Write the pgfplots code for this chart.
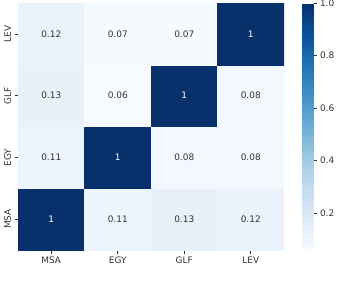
\documentclass[border=0pt]{standalone}
\usepackage{pgfplots}
\usepackage{pgfplotstable}
\pgfplotsset{compat=1.18}
\usepackage{fontspec}
\setmainfont{DejaVu Sans}
\definecolor{labelgray}{HTML}{333333}

% pairwise similarity between dialects (rows: y, columns: x)
\pgfplotstableread{
x y v
0 0 1
1 0 0.11
2 0 0.13
3 0 0.12
0 1 0.11
1 1 1
2 1 0.08
3 1 0.08
0 2 0.13
1 2 0.06
2 2 1
3 2 0.08
0 3 0.12
1 3 0.07
2 3 0.07
3 3 1
}\corr

\pgfplotsset{
  cell label/.style={draw=none, mark=none, point meta=explicit symbolic,
    nodes near coords, nodes near coords align=center,
    every node near coord/.append style={font=\fontsize{9}{10}\selectfont,
      anchor=center, text=#1}},
}

\begin{document}
\begin{tikzpicture}
\begin{axis}[
  name=heat,
  scale only axis,
  width=266bp, height=247bp,
  xmin=-0.5, xmax=3.5, ymin=-0.5, ymax=3.5,
  axis line style={draw=none},
  xtick={0,1,2,3}, xticklabels={MSA,EGY,GLF,LEV},
  ytick={0,1,2,3}, yticklabels={MSA,EGY,GLF,LEV},
  xtick pos=left, ytick pos=left,
  yticklabel style={rotate=90, anchor=south},
  tick align=outside, major tick length=3.5bp,
  tick style={color=labelgray, line width=0.6bp},
  ticklabel style={font=\fontsize{9}{10}\selectfont, text=labelgray},
  colormap={blues}{
    rgb255=(247,251,255) rgb255=(222,235,247) rgb255=(198,219,239)
    rgb255=(158,202,225) rgb255=(107,174,214) rgb255=(66,146,198)
    rgb255=(33,113,181) rgb255=(8,81,156) rgb255=(8,48,107)},
  point meta min=0.06, point meta max=1,
  colorbar,
  colorbar style={
    at={(parent axis.north east)}, anchor=north west, xshift=10bp,
    scale only axis, width=11bp,
    axis line style={draw=none},
    ytick={0.2,0.4,0.6,0.8,1.0},
    ytick pos=right, yticklabel pos=right,
    tick align=outside, major tick length=3bp,
    tick style={color=labelgray, line width=0.6bp},
    yticklabel style={font=\fontsize{9}{10}\selectfont, text=labelgray,
      /pgf/number format/.cd, fixed, fixed zerofill, precision=1, assume math mode=true},
  },
]
\addplot[matrix plot*, mesh/cols=4, point meta=explicit] table[x=x, y=y, meta=v] {\corr};
% value labels: light text on dark cells, dark text on light cells
\addplot[cell label=labelgray, restrict expr to domain={\thisrow{v}}{0:0.5}]
  table[x=x, y=y, meta=v] {\corr};
\addplot[cell label=white, restrict expr to domain={\thisrow{v}}{0.5:2}]
  table[x=x, y=y, meta=v] {\corr};
\end{axis}
\pgfresetboundingbox
\path ([shift={(-18bp,-34bp)}]heat.south west) rectangle ([shift={(55bp,3bp)}]heat.north east);
\end{tikzpicture}
\end{document}
